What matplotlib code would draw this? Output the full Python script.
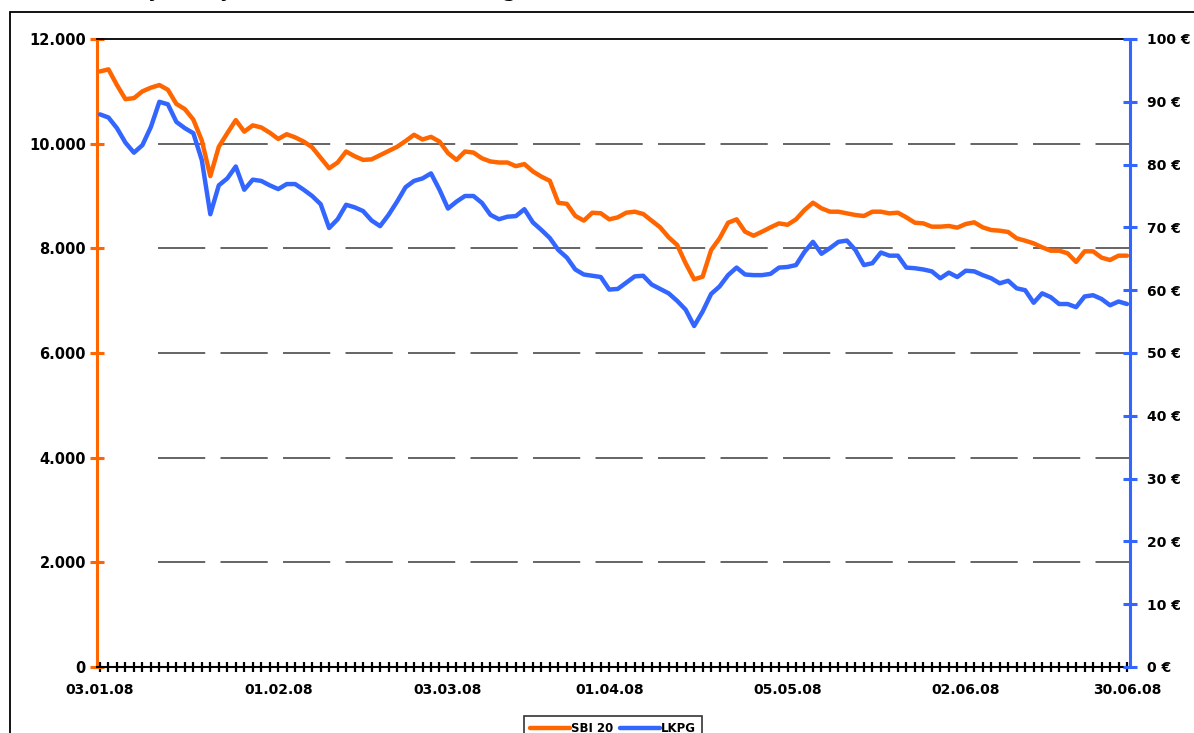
import matplotlib
matplotlib.use('Agg')
import matplotlib.pyplot as plt
import matplotlib.patches as patches
from matplotlib.ticker import FuncFormatter
import numpy as np

# SBI 20 index (left axis) and LKPG share price in EUR (right axis), trading days 03.01.08 - 30.06.08
sbi20 = [11380, 11420, 11120, 10850, 10870, 11000, 11070, 11120, 11030, 10760,
         10660, 10460, 10060, 9380, 9940, 10200, 10450, 10230, 10350, 10310,
         10210, 10090, 10180, 10120, 10040, 9930, 9730, 9530, 9640, 9850,
         9760, 9690, 9700, 9780, 9860, 9940, 10050, 10170, 10080, 10130,
         10040, 9820, 9690, 9850, 9830, 9720, 9660, 9640, 9640, 9570,
         9610, 9470, 9370, 9290, 8870, 8850, 8620, 8530, 8680, 8670,
         8554, 8592, 8681, 8700, 8656, 8528, 8401, 8210, 8064, 7714,
         7408, 7458, 7967, 8191, 8489, 8554, 8318, 8241, 8318, 8401,
         8477, 8450, 8554, 8732, 8872, 8765, 8700, 8700, 8668, 8637,
         8618, 8700, 8700, 8668, 8681, 8592, 8490, 8477, 8414, 8414,
         8427, 8395, 8465, 8497, 8401, 8350, 8337, 8312, 8191, 8146,
         8095, 8019, 7955, 7955, 7905, 7740, 7943, 7943, 7822, 7777,
         7860, 7860]
lkpg = [88.0, 87.5, 85.8, 83.5, 81.9, 83.1, 86.0, 90.0, 89.6, 86.8,
        85.8, 85.0, 80.7, 72.1, 76.7, 77.8, 79.7, 76.0, 77.6, 77.4,
        76.7, 76.1, 76.9, 76.9, 76.0, 75.0, 73.7, 69.9, 71.3, 73.6,
        73.2, 72.6, 71.1, 70.2, 72.0, 74.1, 76.4, 77.4, 77.8, 78.6,
        76.0, 73.0, 74.1, 75.0, 75.0, 73.9, 72.0, 71.3, 71.7, 71.8,
        72.9, 70.8, 69.6, 68.3, 66.4, 65.2, 63.3, 62.5, 62.3, 62.1,
        60.1, 60.2, 61.2, 62.2, 62.3, 60.9, 60.2, 59.5, 58.3, 56.9,
        54.3, 56.6, 59.4, 60.6, 62.4, 63.6, 62.5, 62.4, 62.4, 62.6,
        63.6, 63.7, 64.0, 66.1, 67.7, 65.8, 66.7, 67.7, 67.9, 66.4,
        64.0, 64.3, 66.0, 65.5, 65.5, 63.6, 63.5, 63.3, 63.0, 61.9,
        62.8, 62.1, 63.1, 63.0, 62.4, 61.9, 61.1, 61.5, 60.3, 60.0,
        58.0, 59.5, 58.9, 57.8, 57.8, 57.3, 59.0, 59.2, 58.6, 57.6,
        58.2, 57.8]
date_idx = [0, 21, 41, 60, 81, 102, 121]
date_labels = ['03.01.08', '01.02.08', '03.03.08', '01.04.08', '05.05.08', '02.06.08', '30.06.08']
sbi_ticks = [0, 2000, 4000, 6000, 8000, 10000, 12000]
eur_ticks = [0, 10, 20, 30, 40, 50, 60, 70, 80, 90, 100]

ORANGE = '#FF6600'
BLUE = '#3366FF'

plt.rcParams['font.family'] = 'DejaVu Sans'
plt.rcParams['lines.scale_dashes'] = False

W, H = 1194, 733
fig = plt.figure(figsize=(W / 100, H / 100), dpi=100)

# outer chart frame (clipped by the picture edge on the right and bottom)
fig.patches.append(patches.Rectangle((10 / W, -0.2), 1.5, 1.2 - 12 / H, transform=fig.transFigure,
                                     fill=False, edgecolor='black', lw=1.3))
# title sits above the picture, only its lowest part shows (as in the source)
fig.text(5 / W, 1 + 5 / H, 'Graf 1: Gibanje tečaja delnice LKPG in borznega indeksa SBI 20 v letu 2008 (v EUR)',
         fontsize=17, family='Noto Sans', va='baseline', ha='left')

ax = fig.add_axes([97 / W, 66 / H, 1033 / W, 628 / H])
x = np.arange(len(sbi20))

# dashed gridlines
for v in sbi_ticks[1:-1]:
    ax.axhline(v, xmin=0.059, color='#4a4a4a', lw=1.2, ls=(0, (34, 11)), zorder=1)

l1, = ax.plot(x, sbi20, color=ORANGE, lw=3.2, solid_joinstyle='round', solid_capstyle='round',
              label='SBI 20', zorder=3)
ax.set_xlim(-0.35, len(x) - 1 + 0.35)
ax.set_ylim(0, 12000)
ax.set_yticks(sbi_ticks)
ax.yaxis.set_major_formatter(FuncFormatter(lambda v, p: f'{v:,.0f}'.replace(',', '.')))
ax.set_xticks(x, minor=True)
ax.set_xticks(date_idx)
ax.set_xticklabels(date_labels)

ax.spines['right'].set_visible(False)
ax.spines['left'].set_color(ORANGE)
ax.spines['left'].set_linewidth(2.2)
ax.spines['top'].set_color('black')
ax.spines['top'].set_linewidth(1.3)
ax.spines['bottom'].set_color('black')
ax.spines['bottom'].set_linewidth(1.5)

ax.tick_params(axis='y', direction='inout', length=10, width=2.2, color=ORANGE, pad=3,
               labelsize=10.5)
ax.tick_params(axis='x', which='both', direction='inout', length=7, width=1.6, color='black')
ax.tick_params(axis='x', which='major', pad=8, labelsize=10)
for t in ax.get_yticklabels() + ax.get_xticklabels():
    t.set_fontweight('bold')

ax2 = ax.twinx()
l2, = ax2.plot(x, lkpg, color=BLUE, lw=3.2, solid_joinstyle='round', solid_capstyle='round',
               label='LKPG', zorder=3)
ax2.set_ylim(0, 100)
ax2.set_yticks(eur_ticks)
ax2.yaxis.set_major_formatter(FuncFormatter(lambda v, p: f'{v:.0f} €'))
for s in ['left', 'top', 'bottom']:
    ax2.spines[s].set_visible(False)
ax2.spines['right'].set_color(BLUE)
ax2.spines['right'].set_linewidth(2.2)
ax2.tick_params(axis='y', direction='inout', length=10, width=2.2, color=BLUE, pad=7, labelsize=10)
for t in ax2.get_yticklabels():
    t.set_fontweight('bold')

leg = fig.legend([l1, l2], ['SBI 20', 'LKPG'], loc='upper center',
                 bbox_to_anchor=(613 / W, 1 - 716 / H), ncol=2, frameon=True, fancybox=False,
                 edgecolor='black', prop={'weight': 'bold', 'size': 8.5}, handlelength=3.4,
                 handletextpad=0.1, columnspacing=0.5, borderpad=0.5, borderaxespad=0)
leg.get_frame().set_linewidth(1.2)

fig.savefig('out.png', dpi=100)
